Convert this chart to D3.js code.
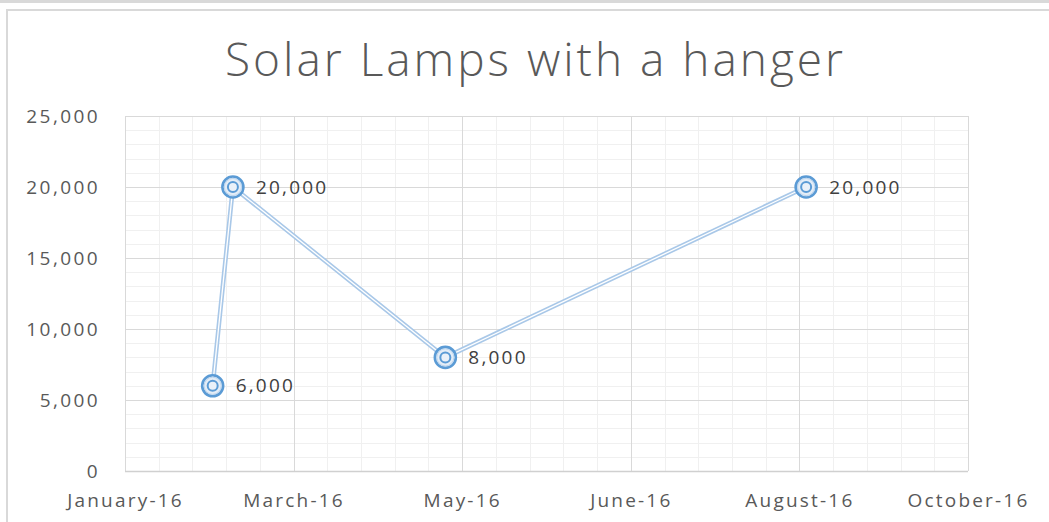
<!DOCTYPE html>
<html>
<head>
<meta charset="utf-8">
<script src="https://cdn.jsdelivr.net/npm/d3@7"></script>
<style>
  body { margin: 0; background: #fff; }
  svg { display: block; }
</style>
</head>
<body>
<div id="chart"></div>
<script>
// data
var pointDates = ["2016-02-26", "2016-03-03", "2016-05-05", "2016-08-20"];
var pointValues = [6000, 20000, 8000, 20000];
var xTickDates = ["2016-01-31", "2016-03-21", "2016-05-10", "2016-06-29", "2016-08-18", "2016-10-07"];
var xTickLabels = ["January-16", "March-16", "May-16", "June-16", "August-16", "October-16"];
var yTicks = [0, 5000, 10000, 15000, 20000, 25000];

var parse = d3.timeParse("%Y-%m-%d");
var W = 1049, H = 522;
var plotLeft = 125, plotRight = 968, plotTop = 116, plotBottom = 471;

var svg = d3.select("#chart").append("svg")
    .attr("width", W)
    .attr("height", H);

// frame bits
svg.append("rect").attr("x", 0).attr("y", 0).attr("width", W).attr("height", 3).attr("fill", "#d9d9d9");
svg.append("rect").attr("x", 7).attr("y", 10).attr("width", W + 10).attr("height", H + 10)
    .attr("fill", "none").attr("stroke", "#d9d9d9").attr("stroke-width", 2);

var x = d3.scaleTime()
    .domain([parse(xTickDates[0]), parse(xTickDates[xTickDates.length - 1])])
    .range([plotLeft, plotRight]);
var y = d3.scaleLinear().domain([0, 25000]).range([plotBottom, plotTop]);

// minor gridlines: every 10 days / 1000 units
var minorX = d3.range(0, 251, 10).map(function (d) { return d3.timeDay.offset(x.domain()[0], d); });
var minorY = d3.range(0, 25001, 1000);

var grid = svg.append("g");
grid.selectAll(".mx").data(minorX).enter().append("line")
    .attr("x1", function (d) { return Math.round(x(d)) + 0.5; })
    .attr("x2", function (d) { return Math.round(x(d)) + 0.5; })
    .attr("y1", plotTop).attr("y2", plotBottom)
    .attr("stroke", "#f0f0f0");
grid.selectAll(".my").data(minorY).enter().append("line")
    .attr("y1", function (d) { return Math.round(y(d)) + 0.5; })
    .attr("y2", function (d) { return Math.round(y(d)) + 0.5; })
    .attr("x1", plotLeft).attr("x2", plotRight)
    .attr("stroke", "#f0f0f0");
grid.selectAll(".Mx").data(xTickDates.map(parse)).enter().append("line")
    .attr("x1", function (d) { return Math.round(x(d)) + 0.5; })
    .attr("x2", function (d) { return Math.round(x(d)) + 0.5; })
    .attr("y1", plotTop).attr("y2", plotBottom)
    .attr("stroke", "#d9d9d9");
grid.selectAll(".My").data(yTicks).enter().append("line")
    .attr("y1", function (d) { return Math.round(y(d)) + 0.5; })
    .attr("y2", function (d) { return Math.round(y(d)) + 0.5; })
    .attr("x1", plotLeft).attr("x2", plotRight)
    .attr("stroke", "#d9d9d9");
// bottom axis line
svg.append("line").attr("x1", plotLeft).attr("x2", plotRight)
    .attr("y1", plotBottom + 0.5).attr("y2", plotBottom + 0.5)
    .attr("stroke", "#d0d0d0").attr("stroke-width", 1.5);

// axes labels (the reference font is wide, hence the letter spacing)
var yAxis = svg.append("g")
    .attr("transform", "translate(" + (plotLeft - 22) + ",0)")
    .call(d3.axisLeft(y).tickValues(yTicks).tickSize(0).tickFormat(d3.format(",")));
yAxis.select(".domain").remove();
yAxis.selectAll("text")
    .attr("fill", "#595959")
    .style("font-family", "Open Sans")
    .style("font-size", "19px")
    .style("letter-spacing", "2.4px");

var xAxis = svg.append("g")
    .attr("transform", "translate(0," + (plotBottom + 19) + ")")
    .call(d3.axisBottom(x).tickValues(xTickDates.map(parse)).tickSize(0)
        .tickFormat(function (d, i) { return xTickLabels[i]; }));
xAxis.select(".domain").remove();
xAxis.selectAll("text")
    .attr("fill", "#595959")
    .style("font-family", "Open Sans")
    .style("font-size", "19px")
    .style("letter-spacing", "2.2px");

// title
svg.append("text")
    .attr("x", 534).attr("y", 76)
    .attr("text-anchor", "middle")
    .attr("textLength", 618)
    .attr("fill", "#595959")
    .style("font-family", "Open Sans")
    .style("font-weight", 300)
    .style("font-size", "46px")
    .text("Solar Lamps with a hanger");

var pts = pointDates.map(function (d, i) { return { date: parse(d), value: pointValues[i] }; });
var line = d3.line()
    .x(function (d) { return x(d.date); })
    .y(function (d) { return y(d.value); });

// compound (double) line
svg.append("path").datum(pts).attr("d", line)
    .attr("fill", "none").attr("stroke", "#a9c8e8").attr("stroke-width", 4.5)
    .attr("stroke-linejoin", "round");
svg.append("path").datum(pts).attr("d", line)
    .attr("fill", "none").attr("stroke", "#ffffff").attr("stroke-width", 1.3)
    .attr("stroke-linejoin", "round");

var marks = svg.append("g").selectAll("g").data(pts).enter().append("g")
    .attr("transform", function (d) { return "translate(" + x(d.date) + "," + y(d.value) + ")"; });
marks.append("circle").attr("r", 10.5).attr("fill", "#e4edf7")
    .attr("stroke", "#5b9bd5").attr("stroke-width", 2.6);
marks.append("circle").attr("r", 8.6).attr("fill", "none")
    .attr("stroke", "#bcd5ee").attr("stroke-width", 1);
marks.append("circle").attr("r", 5).attr("fill", "#eaf1f9")
    .attr("stroke", "#5b9bd5").attr("stroke-width", 2);

marks.append("text")
    .attr("x", 23).attr("dy", "0.35em")
    .attr("fill", "#404040")
    .style("font-family", "Open Sans")
    .style("font-size", "19px")
    .style("letter-spacing", "2.2px")
    .text(function (d) { return d3.format(",")(d.value); });
</script>
</body>
</html>
